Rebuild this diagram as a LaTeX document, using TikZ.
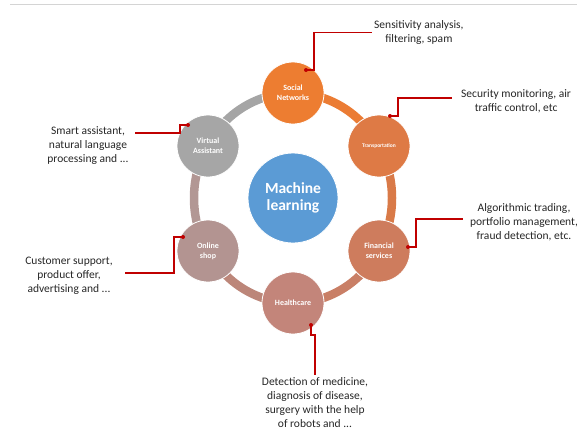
\documentclass[tikz,border=0pt]{standalone}
\usepackage{fontspec}
\setmainfont{Carlito}
\usepackage{tikz}

\definecolor{hubblue}{HTML}{5B9BD5}
\definecolor{socialc}{HTML}{ED7D31}
\definecolor{transc}{HTML}{DE7A45}
\definecolor{finc}{HTML}{CE7C5D}
\definecolor{healc}{HTML}{C3857A}
\definecolor{shopc}{HTML}{B39491}
\definecolor{virtc}{HTML}{A6A6A6}
\definecolor{ringa}{HTML}{A5A5A5}
\definecolor{ringb}{HTML}{EB7C34}
\definecolor{ringc}{HTML}{D97A48}
\definecolor{ringd}{HTML}{C97F66}
\definecolor{ringe}{HTML}{BC8679}
\definecolor{ringf}{HTML}{B29794}
\definecolor{leadred}{HTML}{C00000}
\definecolor{rulegray}{HTML}{D4D4D4}

\begin{document}
\begin{tikzpicture}[x=1pt,y=-1pt,
  field/.style={circle,draw=white,line width=0.8pt,minimum size=62pt,inner sep=0pt,
    text=white,align=center,font=\fontsize{8}{10}\selectfont\bfseries},
  note/.style={align=center,inner sep=2pt,text=black!85,font=\fontsize{11.5}{14}\selectfont},
  lead/.style={draw=leadred,line width=1.2pt},
  ring/.style={line width=8.5pt}]
\useasboundingbox (0,0) rectangle (577,434);
\draw[rulegray,line width=0.8pt] (10,4) -- (577,4);

\coordinate (hub) at (293,198);
\foreach \a/\c in {210/ringa,270/ringb,330/ringc,30/ringd,90/ringe,150/ringf}
  \draw[ring,\c] (hub) ++(\a:99 and 105) arc[start angle=\a,delta angle=60,x radius=99,y radius=105];

\node[circle,draw=white,line width=0.8pt,fill=hubblue,minimum size=90pt,text=white,align=center,
  font=\fontsize{15.5}{17}\selectfont\bfseries] (ML) at (hub) {Machine\\learning};
\node[field,fill=socialc] (SN) at (293,93) {Social\\Networks};
\node[field,fill=transc,font=\fontsize{5.5}{7}\selectfont\bfseries] (TR) at (379,146) {Transportation};
\node[field,fill=finc] (FS) at (379,251) {Financial\\services};
\node[field,fill=healc] (HC) at (293,303) {Healthcare};
\node[field,fill=shopc] (OS) at (208,251) {Online\\shop};
\node[field,fill=virtc] (VA) at (208,146) {Virtual\\Assistant};

\node[note,anchor=west] (sens) at (372,32.5) {Sensitivity analysis,\\filtering, spam};
\node[note,anchor=west] (secu) at (459,101) {Security monitoring, air\\traffic control, etc};
\node[note] (smart) at (88,146) {Smart assistant,\\natural language\\processing and ...};
\node[note] (cust) at (69,275.5) {Customer support,\\product offer,\\advertising and ...};
\node[note] (algo) at (524,222) {Algorithmic trading,\\portfolio management,\\fraud detection, etc.};
\node[note,anchor=north] (detect) at (315,375) {Detection of medicine,\\diagnosis of disease,\\surgery with the help\\of robots and ...};

\coordinate (snDot) at (306,70);
\coordinate (trDot) at (390,116);
\coordinate (fsDot) at (408,247);
\coordinate (hcDot) at (311,325);
\coordinate (osDot) at (183,237);
\coordinate (vaDot) at (188,125);

\draw[lead] (snDot) -- ++(8,0) |- (sens.west);
\draw[lead] (trDot) -- ++(8,0) |- ([xshift=-7pt,yshift=3pt]secu.west);
\draw[lead] (fsDot) -- ++(8,0) |- ([xshift=-5pt,yshift=3pt]algo.west);
\draw[lead] (hcDot) -- ++(0,10) -| (detect.north);
\draw[lead] (osDot) -- ++(-9,0) |- ([xshift=10pt,yshift=2.5pt]cust.east);
\draw[lead] (vaDot) -- ++(-8,0) |- ([xshift=4pt,yshift=13pt]smart.east);
\foreach \d in {snDot,trDot,fsDot,hcDot,osDot,vaDot}
  \fill[leadred] (\d) circle[radius=2pt];
\end{tikzpicture}
\end{document}
